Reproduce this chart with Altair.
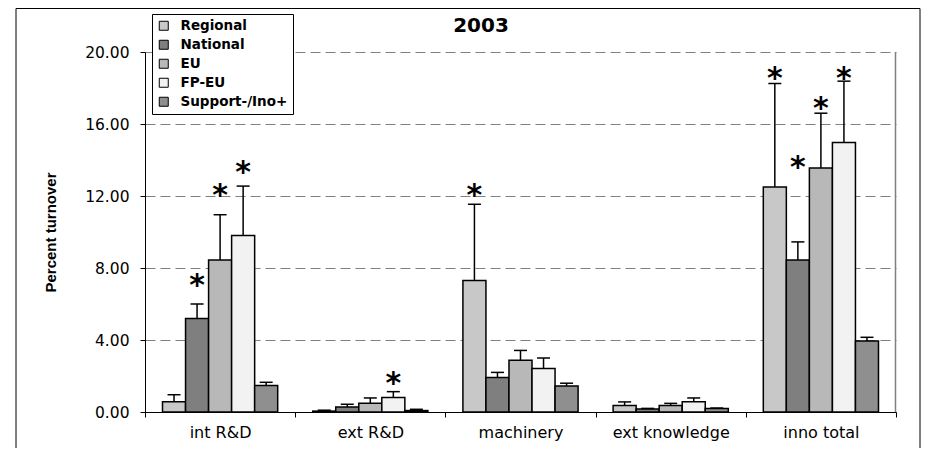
import altair as alt
import pandas as pd

categories = ["int R&D", "ext R&D", "machinery", "ext knowledge", "inno total"]
series = ["Regional", "National", "EU", "FP-EU", "Support-/Ino+"]

regional = [0.57, 0.05, 7.3, 0.36, 12.5]
national = [5.2, 0.28, 1.92, 0.17, 8.45]
eu = [8.45, 0.48, 2.88, 0.36, 13.55]
fp_eu = [9.8, 0.8, 2.42, 0.57, 14.97]
support = [1.47, 0.08, 1.45, 0.2, 3.95]

regional_err = [0.96, 0.1, 11.54, 0.56, 18.25]
national_err = [6.0, 0.43, 2.2, 0.2, 9.45]
eu_err = [10.96, 0.78, 3.42, 0.48, 16.6]
fp_eu_err = [12.55, 1.13, 3.0, 0.78, 18.38]
support_err = [1.65, 0.15, 1.6, 0.22, 4.15]

star_category = ["int R&D", "int R&D", "int R&D", "ext R&D", "machinery",
                 "inno total", "inno total", "inno total", "inno total"]
star_series = ["National", "EU", "FP-EU", "FP-EU", "Regional",
               "Regional", "National", "EU", "FP-EU"]
star_y = [7.45, 12.45, 13.7, 2.0, 12.45, 18.95, 14.0, 17.3, 18.95]

y_ticks = [0, 4, 8, 12, 16, 20]
fills = ["#c8c8c8", "#7f7f7f", "#b8b8b8", "#f2f2f2", "#8f8f8f"]

vals = [regional, national, eu, fp_eu, support]
errs = [regional_err, national_err, eu_err, fp_eu_err, support_err]
rows = []
for s, v, e in zip(series, vals, errs):
    for c, vv, ee in zip(categories, v, e):
        rows.append({"cat": c, "series": s, "value": vv, "err": ee})
df = pd.DataFrame(rows)
stars = pd.DataFrame({"cat": star_category, "series": star_series, "y": star_y})

x_scale = alt.Scale(paddingInner=0, paddingOuter=0)
x_axis = alt.Axis(title=None, labelAngle=0, tickBand="extent", tickSize=5,
                  tickColor="black", domainColor="black", labelFont="DejaVu Sans",
                  labelFontSize=16, labelColor="black", labelPadding=7, grid=False)
xo_scale = alt.Scale(paddingInner=0, paddingOuter=0.76)
y_scale = alt.Scale(domain=[0, 20], nice=False)
y_axis = alt.Axis(values=y_ticks, format=".2f", title="Percent turnover", grid=True,
                  gridDash=[10, 5], gridColor="#808080", gridWidth=1, tickSize=5,
                  tickColor="black", domainColor="black", labelFont="DejaVu Sans",
                  labelFontSize=15.5, labelColor="black", labelPadding=11,
                  titleFont="Liberation Sans", titleFontSize=15, titleFontWeight="bold",
                  titleAngle=270, titleX=-95, titleY=180, titleBaseline="middle",
                  titleAlign="center", titleColor="black")

X = alt.X("cat:N", sort=categories, scale=x_scale, axis=x_axis)
XO = alt.XOffset("series:N", sort=series, scale=xo_scale)

def Y(field):
    return alt.Y(field, type="quantitative", scale=y_scale, axis=y_axis)

one = alt.Data(values=[{"a": 1}])

frame = alt.Chart(one).mark_rect(fill="white", fillOpacity=0, stroke="black", strokeWidth=1).encode(
    x=alt.value(-129), x2=alt.value(775), y=alt.value(-43.5), y2=alt.value(520))
right_edge = alt.Chart(one).mark_rule(color="#808080", strokeWidth=1.5).encode(
    x=alt.value(750.5), y=alt.value(0), y2=alt.value(360))

bars = alt.Chart(df).mark_bar(stroke="black", strokeWidth=1.5).encode(
    x=X, xOffset=XO, y=Y("value"),
    color=alt.Color("series:N", sort=series,
                    scale=alt.Scale(domain=series, range=fills),
                    legend=alt.Legend(title=None, orient="none", legendX=7, legendY=-38,
                                      strokeColor="black", fillColor="white", padding=5,
                                      symbolType="square", symbolSize=81,
                                      symbolStrokeColor="black", symbolStrokeWidth=1,
                                      symbolOpacity=1, labelFont="DejaVu Sans",
                                      labelFontSize=13.5, labelFontWeight="bold",
                                      labelColor="black", rowPadding=4, labelOffset=10)))

err_line = alt.Chart(df).mark_rule(color="black", strokeWidth=1.5).encode(
    x=X, xOffset=XO, y=Y("value"), y2="err")
caps = alt.Chart(df).mark_tick(color="black", size=13, thickness=1.5, opacity=1).encode(
    x=X, xOffset=XO, y=Y("err"))
star_marks = alt.Chart(stars).mark_text(text="*", font="DejaVu Sans", fontWeight="bold",
                                        fontSize=30, color="black", baseline="middle",
                                        dy=8).encode(
    x=X, xOffset=XO, y=Y("y"))
title = alt.Chart(one).mark_text(text="2003", font="DejaVu Sans", fontWeight="bold",
                                 fontSize=20, color="black", baseline="alphabetic",
                                 align="center").encode(
    x=alt.value(336), y=alt.value(-20))

chart = alt.layer(frame, right_edge, bars, err_line, caps, star_marks, title).properties(
    width=751, height=360,
    padding={"left": 137, "top": 44, "right": 46, "bottom": 36},
    autosize="none",
).configure_view(stroke=None)

chart.save("out.html", embed_options={"renderer": "svg", "actions": False})
